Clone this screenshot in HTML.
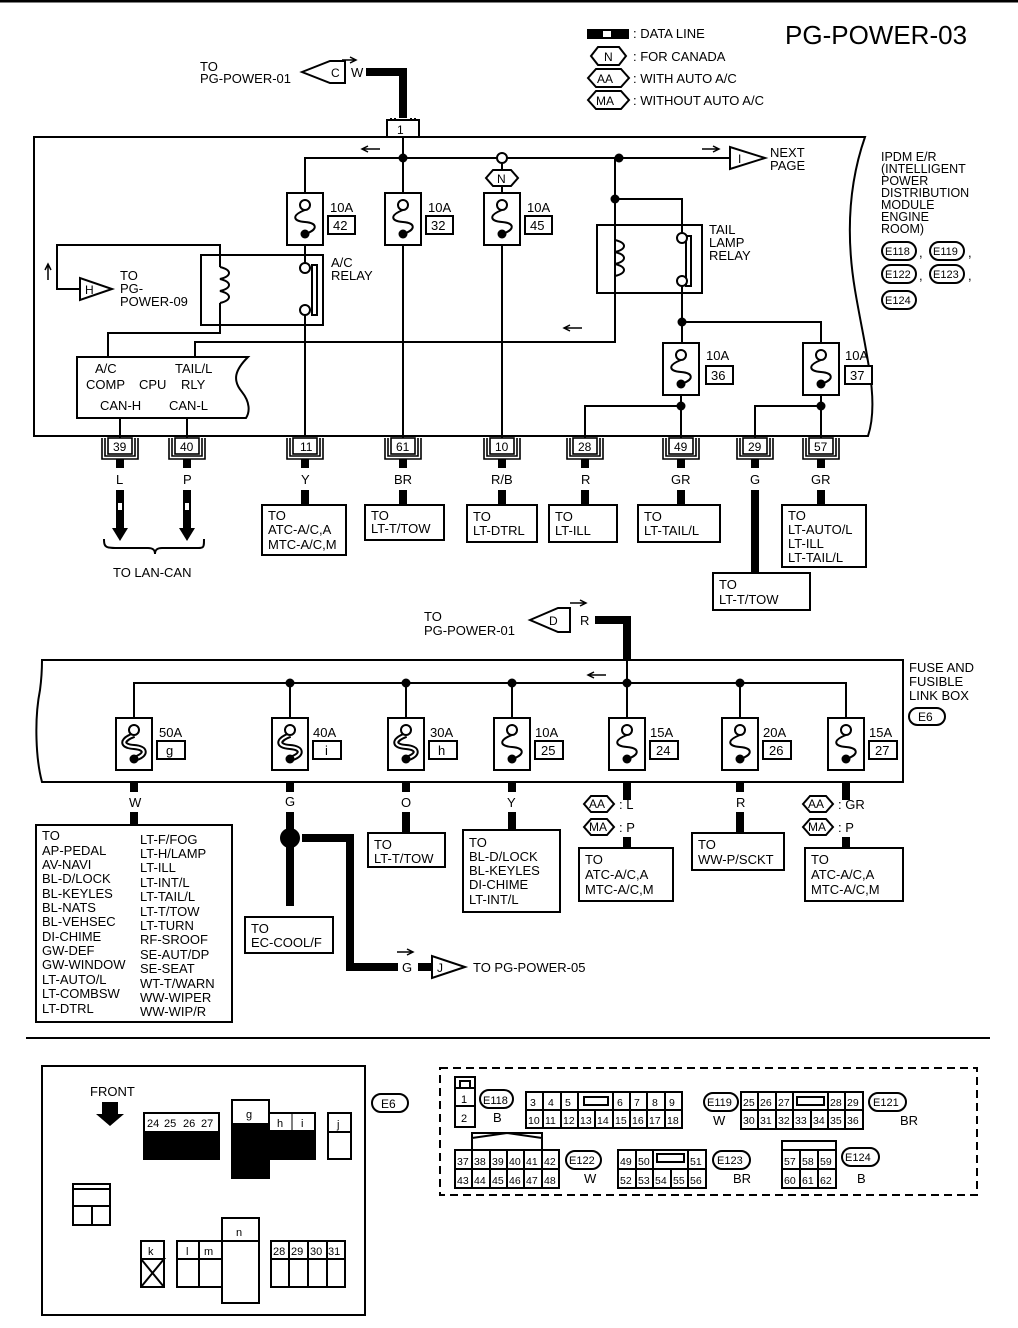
<!DOCTYPE html>
<html><head><meta charset="utf-8"><style>
html,body{margin:0;padding:0;background:#fff}
svg{display:block}
text{font-family:"Liberation Sans",Arial,sans-serif;fill:#000}
</style></head><body>
<svg width="1018" height="1328" viewBox="0 0 1018 1328" xmlns="http://www.w3.org/2000/svg">
<defs>
<g id="fz"><rect x="-18" y="0" width="36" height="52" fill="#fff" stroke="#000" stroke-width="2"/><path d="M0 17 C-13 22 -13 28 0 29 C13 30 13 37 0 41" fill="none" stroke="#000" stroke-width="2"/><circle cx="0" cy="12" r="5" fill="#fff" stroke="#000" stroke-width="2"/><circle cx="0" cy="41" r="4.5" fill="#000"/></g>
<g id="fzb"><rect x="-18" y="0" width="36" height="52" fill="#fff" stroke="#000" stroke-width="2"/><path d="M0 17 C-13 22 -13 28 0 29 C13 30 13 37 0 41" fill="none" stroke="#000" stroke-width="6"/><path d="M0 17 C-13 22 -13 28 0 29 C13 30 13 37 0 41" fill="none" stroke="#fff" stroke-width="2"/><circle cx="0" cy="12" r="5" fill="#fff" stroke="#000" stroke-width="2"/><circle cx="0" cy="41" r="4.5" fill="#000"/></g>
<g id="pin" fill="none" stroke="#000" stroke-width="1.6"><path d="M-18 438 V459 H18 V438"/><path d="M-15 438 V456 H15 V438"/><rect x="-12" y="438" width="24" height="16" fill="#fff"/></g>
</defs>
<g stroke="#000" fill="none" stroke-width="2">
<line x1="0" y1="1" x2="1018" y2="1" stroke-width="3"/>
<path d="M34 137 H865 C850 180 845 230 855 290 C865 350 880 400 868 436 H34 Z"/>
<path d="M366 72 H403 V118" stroke-width="8"/>
<path d="M391 118 V137 M395 118 V137 M411 118 V137 M415 118 V137"/>
<rect x="387" y="120" width="32" height="17" fill="#fff"/>
<polygon points="302,72 330,61 345,61 345,83 330,83" fill="#fff"/>
<path d="M342 60 H355 M350 57 L356 60 L350 63" stroke-width="1.5"/>
<line x1="403" y1="137" x2="403" y2="193"/>
<path d="M305 193 V158 H730"/>
<path d="M502 158 V170 M502 186 V193"/>
<polygon points="486,178 493,170 511,170 518,178 511,186 493,186" fill="#fff"/>
<polygon points="730,147 730,169 765,158" fill="#fff"/>
<path d="M615 158 V293 M615 199 H682 V238"/>
<rect x="597" y="225" width="105" height="68"/>
<rect x="686" y="236" width="5" height="50"/>
<path d="M682 286 V322 H821 V343 M682 322 V343"/>
<path d="M615 293 V342 H195 V357"/>
<rect x="201" y="255" width="122" height="70"/>
<rect x="312" y="265" width="5" height="50"/>
<path d="M305 245 V263 M305 315 V436"/>
<path d="M220 255 V245 H57 V289 H80"/>
<polygon points="80,278 80,300 112,289" fill="#fff"/>
<path d="M220 325 V333 H108 V357"/>
<path d="M220 267 C232 270 232 276 220 279 C232 282 232 288 220 291 C232 294 232 300 220 303" />
<path d="M220 255 V267 M220 303 V325"/>
<path d="M615 240 C627 243 627 249 615 252 C627 255 627 261 615 264 C627 267 627 273 615 276"/>
<path d="M77 357 H248 C235 370 232 380 242 392 C250 402 250 412 246 418 H77 Z"/>
<path d="M120 418 V438 M187 418 V438 M403 245 V438 M502 245 V438 M681 395 V438 M821 395 V438 M585 438 V406 H681 M755 438 V406 H821"/>
<g stroke-width="8">
<path d="M120 459 V468 M187 459 V468 M305 459 V468 M403 459 V468 M502 459 V468 M585 459 V468 M681 459 V468 M755 459 V468 M821 459 V468"/>
<path d="M305 490 V505 M403 490 V505 M502 490 V505 M585 490 V505 M681 490 V505 M821 490 V505 M755 490 V573"/>
<path d="M120 490 V530 M187 490 V530"/>
</g>
<rect x="118" y="503" width="4" height="7" fill="#fff" stroke="none"/>
<rect x="185" y="503" width="4" height="7" fill="#fff" stroke="none"/>
<path d="M104 539 C104 548 106 548 120 548 H148 C153 548 155 550 155 554 C155 550 157 548 162 548 H196 C204 548 204 548 204 539"/>
<rect x="262" y="505" width="84" height="50"/>
<rect x="365" y="505" width="79" height="35"/>
<rect x="467" y="505" width="70" height="37"/>
<rect x="549" y="505" width="68" height="37"/>
<rect x="638" y="505" width="82" height="37"/>
<rect x="782" y="505" width="84" height="62"/>
<rect x="713" y="573" width="97" height="37"/>
<rect x="588" y="30" width="40" height="8" fill="#000"/>
<rect x="603" y="31" width="8" height="6" fill="#fff" stroke="none"/>
<polygon points="591,56 598,47 619,47 626,56 619,65 598,65" fill="#fff"/>
<polygon points="588,78 596,69 621,69 629,78 621,87 596,87" fill="#fff"/>
<polygon points="588,100 596,91 621,91 629,100 621,109 596,109" fill="#fff"/>
<rect x="882" y="242" width="34" height="18" rx="9"/>
<rect x="930" y="242" width="34" height="18" rx="9"/>
<rect x="882" y="265" width="34" height="18" rx="9"/>
<rect x="930" y="265" width="34" height="18" rx="9"/>
<rect x="882" y="291" width="34" height="18" rx="9"/>
<path d="M42 660 H903 V782 H42 C36 760 34 720 40 690 C42 675 42 665 42 660 Z"/>
<path d="M595 620 H627 V660" stroke-width="8"/>
<polygon points="530,620 558,608 570,608 570,632 558,632" fill="#fff"/>
<path d="M570 603 H585 M580 600 L586 603 L580 606" stroke-width="1.5"/>
<path d="M627 660 V718 M134 718 V683 H846 V718 M290 683 V718 M406 683 V718 M512 683 V718 M740 683 V718"/>
<g stroke-width="8">
<path d="M134 782 V792 M134 812 V825 M290 782 V792 M290 812 V906 M406 782 V792 M406 812 V833 M512 782 V792 M512 812 V830 M627 782 V800 M627 837 V848 M740 782 V792 M740 812 V833 M846 782 V800 M846 837 V848"/>
<path d="M302 838 H350 V967 H398 M418 967 H432"/>
</g>
<circle cx="290" cy="838" r="9" fill="#000"/>
<polygon points="432,956 432,978 465,967" fill="#fff"/>
<path d="M397 952 H412 M407 949 L413 952 L407 955" stroke-width="1.5"/>
<rect x="36" y="825" width="196" height="197"/>
<rect x="245" y="917" width="88" height="36"/>
<rect x="368" y="833" width="77" height="34"/>
<rect x="463" y="830" width="97" height="82"/>
<rect x="579" y="848" width="94" height="53"/>
<rect x="692" y="833" width="92" height="37"/>
<rect x="805" y="848" width="98" height="53"/>
<polygon points="584,804 591,796 607,796 614,804 607,812 591,812" fill="#fff"/>
<polygon points="584,827 591,819 607,819 614,827 607,835 591,835" fill="#fff"/>
<polygon points="803,804 810,796 826,796 833,804 826,812 810,812" fill="#fff"/>
<polygon points="803,827 810,819 826,819 833,827 826,835 810,835" fill="#fff"/>
<rect x="909" y="708" width="36" height="17" rx="8.5"/>
<line x1="26" y1="1038" x2="990" y2="1038"/>
<rect x="42" y="1066" width="323" height="249"/>
<rect x="372" y="1094" width="36" height="18" rx="9"/>
<rect x="144" y="1113" width="75" height="46" fill="#000"/>
<rect x="232" y="1100" width="37" height="78" fill="#000"/>
<rect x="269" y="1113" width="46" height="46" fill="#000"/>
<rect x="328" y="1113" width="23" height="46"/>
<line x1="328" y1="1132" x2="351" y2="1132"/>
<rect x="73" y="1184" width="37" height="41"/>
<path d="M73 1189 H110 M73 1206 H110 M92 1206 V1225"/>
<rect x="141" y="1241" width="23" height="46"/>
<path d="M141 1259 H164 L141 1287 M141 1259 L164 1287"/>
<rect x="177" y="1241" width="45" height="46"/>
<path d="M177 1259 H222 M199 1241 V1287"/>
<rect x="222" y="1218" width="37" height="85"/>
<line x1="222" y1="1241" x2="259" y2="1241"/>
<rect x="271" y="1241" width="74" height="46"/>
<path d="M271 1259 H345 M289 1241 V1287 M308 1241 V1287 M327 1241 V1287"/>
<rect x="440" y="1068" width="537" height="127" stroke-dasharray="8,5"/>
<rect x="455" y="1077" width="20" height="50"/>
<rect x="460" y="1081" width="10" height="7"/>
<path d="M455 1088 H475 M455 1106 H475"/>
<rect x="480" y="1090" width="33" height="18" rx="9"/>
<rect x="526" y="1092" width="156" height="36"/>
<path d="M526 1110 H682 M543 1092 V1128 M561 1092 V1128 M578 1092 V1128 M595 1110 V1128 M613 1092 V1128 M630 1092 V1128 M647 1092 V1128 M665 1092 V1128"/>
<rect x="584" y="1097" width="24" height="8"/>
<rect x="704" y="1093" width="34" height="18" rx="9"/>
<rect x="741" y="1092" width="122" height="37"/>
<path d="M741 1110 H863 M758 1092 V1129 M776 1092 V1129 M793 1092 V1129 M811 1110 V1129 M828 1092 V1129 M845 1092 V1129"/>
<rect x="797" y="1097" width="27" height="8"/>
<rect x="869" y="1093" width="37" height="18" rx="9"/>
<path d="M472 1150 V1133 H542 V1150 M472 1138 L507 1133 L542 1138"/>
<rect x="455" y="1150" width="104" height="38"/>
<path d="M455 1169 H559 M472 1150 V1188 M490 1150 V1188 M507 1150 V1188 M524 1150 V1188 M542 1150 V1188"/>
<rect x="566" y="1151" width="35" height="18" rx="9"/>
<rect x="618" y="1150" width="88" height="38"/>
<path d="M618 1169 H706 M636 1150 V1188 M653 1150 V1188 M671 1169 V1188 M688 1150 V1188"/>
<rect x="657" y="1154" width="27" height="8"/>
<rect x="713" y="1151" width="37" height="18" rx="9"/>
<rect x="782" y="1141" width="54" height="47"/>
<path d="M782 1150 H836 M782 1169 H836 M800 1150 V1188 M818 1150 V1188"/>
<rect x="842" y="1148" width="37" height="18" rx="9"/>
</g>
<polygon points="102,1102 118,1102 118,1114 124,1114 110,1126 96,1114 102,1114" fill="#000"/>
<path d="M363 149 H380 M368 146 L362 149 L368 152" stroke="#000" stroke-width="1.5" fill="none"/>
<path d="M702 149 H718 M713 146 L719 149 L713 152" stroke="#000" stroke-width="1.5" fill="none"/>
<path d="M565 328 H582 M570 325 L564 328 L570 331" stroke="#000" stroke-width="1.5" fill="none"/>
<path d="M589 675 H606 M594 672 L588 675 L594 678" stroke="#000" stroke-width="1.5" fill="none"/>
<path d="M48 280 V265 M45 270 L48 264 L51 270" stroke="#000" stroke-width="1.5" fill="none"/>
<polygon points="112,528 128,528 120,541" fill="#000"/>
<polygon points="179,528 195,528 187,541" fill="#000"/>
<g fill="#000">
<circle cx="403" cy="158" r="4.5"/><circle cx="619" cy="158" r="4.5"/><circle cx="615" cy="199" r="4.5"/>
<circle cx="682" cy="322" r="4.5"/><circle cx="681" cy="406" r="4.5"/><circle cx="821" cy="406" r="4.5"/>
<circle cx="290" cy="683" r="4.5"/><circle cx="406" cy="683" r="4.5"/><circle cx="512" cy="683" r="4.5"/><circle cx="627" cy="683" r="4.5"/><circle cx="740" cy="683" r="4.5"/>
</g>
<g fill="#fff" stroke="#000" stroke-width="2">
<circle cx="502" cy="158" r="5"/>
<circle cx="305" cy="268" r="5"/><circle cx="305" cy="310" r="5"/>
<circle cx="682" cy="238" r="5"/><circle cx="682" cy="281" r="5"/>
</g>
<use href="#fz" x="305" y="193"/><use href="#fz" x="403" y="193"/><use href="#fz" x="502" y="193"/>
<use href="#fz" x="681" y="343"/><use href="#fz" x="821" y="343"/>
<use href="#fzb" x="134" y="718"/><use href="#fzb" x="290" y="718"/><use href="#fzb" x="406" y="718"/>
<use href="#fz" x="512" y="718"/><use href="#fz" x="627" y="718"/><use href="#fz" x="740" y="718"/><use href="#fz" x="846" y="718"/>
<g fill="#fff" stroke="#000" stroke-width="2">
<rect x="328" y="216" width="27" height="18"/><rect x="426" y="216" width="27" height="18"/><rect x="525" y="216" width="27" height="18"/>
<rect x="706" y="366" width="27" height="18"/><rect x="845" y="366" width="27" height="18"/>
<rect x="157" y="741" width="28" height="18"/><rect x="313" y="741" width="28" height="18"/><rect x="429" y="741" width="28" height="18"/>
<rect x="535" y="741" width="28" height="18"/><rect x="650" y="741" width="28" height="18"/><rect x="763" y="741" width="28" height="18"/><rect x="869" y="741" width="28" height="18"/>
</g>
<use href="#pin" x="120"/><use href="#pin" x="187"/><use href="#pin" x="305"/><use href="#pin" x="403"/><use href="#pin" x="502"/><use href="#pin" x="585"/><use href="#pin" x="681"/><use href="#pin" x="755"/><use href="#pin" x="821"/>
<g font-size="13">
<text x="785" y="44" font-size="26">PG-POWER-03</text>
<text x="633" y="38">: DATA LINE</text>
<text x="604" y="61" font-size="12">N</text><text x="633" y="61">: FOR CANADA</text>
<text x="597" y="83" font-size="12">AA</text><text x="633" y="83">: WITH AUTO A/C</text>
<text x="596" y="105" font-size="12">MA</text><text x="633" y="105">: WITHOUT AUTO A/C</text>
<text x="200" y="71">TO</text><text x="200" y="83">PG-POWER-01</text>
<text x="331" y="77" font-size="12">C</text><text x="351" y="77">W</text>
<text x="397" y="134" font-size="12">1</text>
<text x="770" y="157">NEXT</text><text x="770" y="170">PAGE</text>
<text x="738" y="163" font-size="12">I</text>
<text x="497" y="183" font-size="12">N</text>
<g font-size="12.5"><text x="881" y="161">IPDM E/R</text><text x="881" y="173">(INTELLIGENT</text><text x="881" y="185">POWER</text><text x="881" y="197">DISTRIBUTION</text><text x="881" y="209">MODULE</text><text x="881" y="221">ENGINE</text><text x="881" y="233">ROOM)</text></g>
<g font-size="11"><text x="885" y="255">E118</text><text x="933" y="255">E119</text><text x="885" y="278">E122</text><text x="933" y="278">E123</text><text x="885" y="304">E124</text></g>
<text x="919" y="257">,</text><text x="968" y="257">,</text><text x="919" y="280">,</text><text x="968" y="280">,</text>
<text x="330" y="212">10A</text><text x="333" y="230">42</text>
<text x="428" y="212">10A</text><text x="431" y="230">32</text>
<text x="527" y="212">10A</text><text x="530" y="230">45</text>
<text x="706" y="360">10A</text><text x="711" y="380">36</text>
<text x="845" y="360">10A</text><text x="850" y="380">37</text>
<text x="331" y="267">A/C</text><text x="331" y="280">RELAY</text>
<text x="709" y="234">TAIL</text><text x="709" y="247">LAMP</text><text x="709" y="260">RELAY</text>
<text x="120" y="280">TO</text><text x="120" y="293">PG-</text><text x="120" y="306">POWER-09</text>
<text x="85" y="294" font-size="12">H</text>
<text x="95" y="373">A/C</text><text x="86" y="389">COMP</text><text x="139" y="389">CPU</text><text x="175" y="373">TAIL/L</text><text x="181" y="389">RLY</text>
<text x="100" y="410">CAN-H</text><text x="169" y="410">CAN-L</text>
<g font-size="12"><text x="113" y="451">39</text><text x="180" y="451">40</text><text x="300" y="451">11</text><text x="396" y="451">61</text><text x="495" y="451">10</text><text x="578" y="451">28</text><text x="674" y="451">49</text><text x="748" y="451">29</text><text x="814" y="451">57</text></g>
<text x="116" y="484">L</text><text x="183" y="484">P</text><text x="301" y="484">Y</text><text x="394" y="484">BR</text><text x="491" y="484">R/B</text><text x="581" y="484">R</text><text x="671" y="484">GR</text><text x="750" y="484">G</text><text x="811" y="484">GR</text>
<text x="268" y="520">TO</text><text x="268" y="534">ATC-A/C,A</text><text x="268" y="549">MTC-A/C,M</text>
<text x="371" y="520">TO</text><text x="371" y="533">LT-T/TOW</text>
<text x="473" y="521">TO</text><text x="473" y="535">LT-DTRL</text>
<text x="555" y="521">TO</text><text x="555" y="535">LT-ILL</text>
<text x="644" y="521">TO</text><text x="644" y="535">LT-TAIL/L</text>
<text x="788" y="520">TO</text><text x="788" y="534">LT-AUTO/L</text><text x="788" y="548">LT-ILL</text><text x="788" y="562">LT-TAIL/L</text>
<text x="719" y="589">TO</text><text x="719" y="604">LT-T/TOW</text>
<text x="113" y="577">TO LAN-CAN</text>
<text x="424" y="621">TO</text><text x="424" y="635">PG-POWER-01</text>
<text x="549" y="625" font-size="12">D</text><text x="580" y="625">R</text>
<text x="909" y="672">FUSE AND</text><text x="909" y="686">FUSIBLE</text><text x="909" y="700">LINK BOX</text>
<text x="918" y="721" font-size="12">E6</text>
<text x="159" y="737">50A</text><text x="166" y="755">g</text>
<text x="313" y="737">40A</text><text x="325" y="755">i</text>
<text x="430" y="737">30A</text><text x="438" y="755">h</text>
<text x="535" y="737">10A</text><text x="541" y="755">25</text>
<text x="650" y="737">15A</text><text x="656" y="755">24</text>
<text x="763" y="737">20A</text><text x="769" y="755">26</text>
<text x="869" y="737">15A</text><text x="875" y="755">27</text>
<text x="129" y="807">W</text><text x="285" y="806">G</text><text x="401" y="807">O</text><text x="507" y="807">Y</text><text x="736" y="807">R</text>
<g font-size="12"><text x="589" y="808">AA</text><text x="589" y="831">MA</text><text x="808" y="808">AA</text><text x="808" y="831">MA</text></g>
<text x="619" y="809">: L</text><text x="619" y="832">: P</text><text x="838" y="809">: GR</text><text x="838" y="832">: P</text>
<text x="42" y="840">TO</text><text x="42" y="855">AP-PEDAL</text><text x="42" y="869">AV-NAVI</text><text x="42" y="883">BL-D/LOCK</text><text x="42" y="898">BL-KEYLES</text><text x="42" y="912">BL-NATS</text><text x="42" y="926">BL-VEHSEC</text><text x="42" y="941">DI-CHIME</text><text x="42" y="955">GW-DEF</text><text x="42" y="969">GW-WINDOW</text><text x="42" y="984">LT-AUTO/L</text><text x="42" y="998">LT-COMBSW</text><text x="42" y="1013">LT-DTRL</text>
<text x="140" y="844">LT-F/FOG</text><text x="140" y="858">LT-H/LAMP</text><text x="140" y="872">LT-ILL</text><text x="140" y="887">LT-INT/L</text><text x="140" y="901">LT-TAIL/L</text><text x="140" y="916">LT-T/TOW</text><text x="140" y="930">LT-TURN</text><text x="140" y="944">RF-SROOF</text><text x="140" y="959">SE-AUT/DP</text><text x="140" y="973">SE-SEAT</text><text x="140" y="988">WT-T/WARN</text><text x="140" y="1002">WW-WIPER</text><text x="140" y="1016">WW-WIP/R</text>
<text x="251" y="933">TO</text><text x="251" y="947">EC-COOL/F</text>
<text x="374" y="849">TO</text><text x="374" y="863">LT-T/TOW</text>
<text x="469" y="847">TO</text><text x="469" y="861">BL-D/LOCK</text><text x="469" y="875">BL-KEYLES</text><text x="469" y="889">DI-CHIME</text><text x="469" y="904">LT-INT/L</text>
<text x="585" y="864">TO</text><text x="585" y="879">ATC-A/C,A</text><text x="585" y="894">MTC-A/C,M</text>
<text x="698" y="849">TO</text><text x="698" y="864">WW-P/SCKT</text>
<text x="811" y="864">TO</text><text x="811" y="879">ATC-A/C,A</text><text x="811" y="894">MTC-A/C,M</text>
<text x="402" y="972">G</text><text x="437" y="972" font-size="12">J</text><text x="473" y="972">TO PG-POWER-05</text>
<text x="90" y="1096">FRONT</text>
<text x="381" y="1108" font-size="12">E6</text>
</g>
<g font-size="11">
<rect x="145" y="1114" width="73" height="17" fill="#fff"/>
<text x="147" y="1127">24</text><text x="164" y="1127">25</text><text x="183" y="1127">26</text><text x="201" y="1127">27</text>
<rect x="233" y="1101" width="35" height="22" fill="#fff"/><text x="246" y="1118">g</text>
<rect x="270" y="1114" width="44" height="16" fill="#fff"/><line x1="292" y1="1114" x2="292" y2="1130" stroke="#000"/>
<text x="277" y="1127">h</text><text x="301" y="1127">i</text><text x="337" y="1128">j</text>
<text x="148" y="1255">k</text><text x="186" y="1255">l</text><text x="204" y="1255">m</text><text x="236" y="1236">n</text>
<text x="273" y="1255">28</text><text x="291" y="1255">29</text><text x="310" y="1255">30</text><text x="328" y="1255">31</text>
<text x="461" y="1103">1</text><text x="461" y="1122">2</text>
<text x="483" y="1104">E118</text><text x="493" y="1122" font-size="13">B</text>
<g font-size="10.5">
<text x="530" y="1106">3</text><text x="548" y="1106">4</text><text x="565" y="1106">5</text><text x="617" y="1106">6</text><text x="634" y="1106">7</text><text x="652" y="1106">8</text><text x="669" y="1106">9</text>
<text x="528" y="1124">10</text><text x="545" y="1124">11</text><text x="563" y="1124">12</text><text x="580" y="1124">13</text><text x="597" y="1124">14</text><text x="615" y="1124">15</text><text x="632" y="1124">16</text><text x="649" y="1124">17</text><text x="667" y="1124">18</text>
<text x="743" y="1106">25</text><text x="760" y="1106">26</text><text x="778" y="1106">27</text><text x="830" y="1106">28</text><text x="847" y="1106">29</text>
<text x="743" y="1124">30</text><text x="760" y="1124">31</text><text x="778" y="1124">32</text><text x="795" y="1124">33</text><text x="813" y="1124">34</text><text x="830" y="1124">35</text><text x="847" y="1124">36</text>
<text x="457" y="1165">37</text><text x="474" y="1165">38</text><text x="492" y="1165">39</text><text x="509" y="1165">40</text><text x="526" y="1165">41</text><text x="544" y="1165">42</text>
<text x="457" y="1184">43</text><text x="474" y="1184">44</text><text x="492" y="1184">45</text><text x="509" y="1184">46</text><text x="526" y="1184">47</text><text x="544" y="1184">48</text>
<text x="620" y="1165">49</text><text x="638" y="1165">50</text><text x="690" y="1165">51</text>
<text x="620" y="1184">52</text><text x="638" y="1184">53</text><text x="655" y="1184">54</text><text x="673" y="1184">55</text><text x="690" y="1184">56</text>
<text x="784" y="1165">57</text><text x="802" y="1165">58</text><text x="820" y="1165">59</text>
<text x="784" y="1184">60</text><text x="802" y="1184">61</text><text x="820" y="1184">62</text>
</g>
<text x="707" y="1106">E119</text><text x="713" y="1125" font-size="13">W</text>
<text x="873" y="1106">E121</text><text x="900" y="1125" font-size="13">BR</text>
<text x="569" y="1164">E122</text><text x="584" y="1183" font-size="13">W</text>
<text x="717" y="1164">E123</text><text x="733" y="1183" font-size="13">BR</text>
<text x="845" y="1161">E124</text><text x="857" y="1183" font-size="13">B</text>
</g>
</svg>
</body></html>
